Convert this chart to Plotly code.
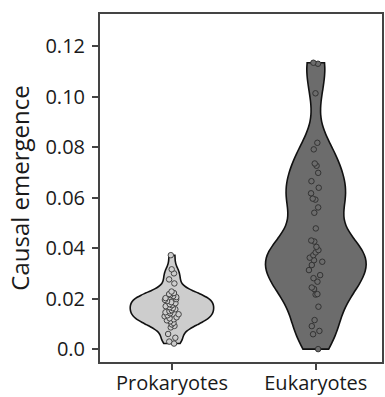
import plotly.graph_objects as go

categories = ["Prokaryotes", "Eukaryotes"]

prokaryotes = [0.0372, 0.0316, 0.0300, 0.0276, 0.0260, 0.0228, 0.0222, 0.0218, 0.0214,
               0.0210, 0.0206, 0.0202, 0.0198, 0.0195, 0.0190, 0.0186, 0.0182, 0.0178,
               0.0174, 0.0170, 0.0166, 0.0162, 0.0158, 0.0154, 0.0150, 0.0146, 0.0142,
               0.0138, 0.0134, 0.0130, 0.0126, 0.0122, 0.0118, 0.0114, 0.0110, 0.0104,
               0.0098, 0.0092, 0.0086, 0.0060, 0.0045, 0.0030, 0.0022]

eukaryotes = [0.1134, 0.1130, 0.1013, 0.0817, 0.0791, 0.0735, 0.0726, 0.0698, 0.0665,
              0.0639, 0.0617, 0.0596, 0.0592, 0.0561, 0.0540, 0.0478, 0.0430, 0.0426,
              0.0405, 0.0392, 0.0383, 0.0372, 0.0362, 0.0352, 0.0346, 0.0333, 0.0313,
              0.0293, 0.0281, 0.0267, 0.0244, 0.0238, 0.0218, 0.0216, 0.0168, 0.0115,
              0.0091, 0.0072, 0.0059, 0.0000]

ytick_vals = [0.0, 0.02, 0.04, 0.06, 0.08, 0.10, 0.12]
ytick_text = ["0.0", "0.02", "0.04", "0.06", "0.08", "0.10", "0.12"]

FONT = "Open Sans"

fig = go.Figure()
fig.add_trace(go.Violin(
    x=[categories[0]] * len(prokaryotes), y=prokaryotes,
    name=categories[0], spanmode="hard", width=0.58, bandwidth=0.0025,
    fillcolor="rgb(205,205,205)", line=dict(color="#111", width=1.6),
    points="all", jitter=0.18, pointpos=0,
    marker=dict(size=5.5, color="rgb(205,205,205)", line=dict(color="#444", width=1)),
    showlegend=False,
))
fig.add_trace(go.Violin(
    x=[categories[1]] * len(eukaryotes), y=eukaryotes,
    name=categories[1], spanmode="hard", width=0.70, bandwidth=0.0078,
    fillcolor="rgb(108,108,108)", line=dict(color="#111", width=1.6),
    points="all", jitter=0.15, pointpos=0,
    marker=dict(size=5.5, color="rgb(108,108,108)", line=dict(color="#333", width=1)),
    showlegend=False,
))

fig.update_layout(
    width=385, height=397,
    margin=dict(l=100, r=3, t=14, b=35, autoexpand=False),
    plot_bgcolor="white", paper_bgcolor="white",
    font=dict(family=FONT, size=20, color="#1a1a1a"),
    violinmode="overlay",
)
fig.update_xaxes(
    type="category", categoryorder="array", categoryarray=categories,
    range=[-0.5, 1.46], automargin=False,
    showline=True, linecolor="#444", linewidth=2, mirror=True,
    ticks="outside", ticklen=6, tickcolor="#444", tickwidth=1.5,
    showgrid=False, zeroline=False,
    tickfont=dict(family=FONT, size=20),
    ticklabelstandoff=-4,
)
fig.update_yaxes(
    range=[-0.0051, 0.1327], automargin=False,
    tickvals=ytick_vals, ticktext=ytick_text,
    showline=True, linecolor="#444", linewidth=2, mirror=True,
    ticks="outside", ticklen=6, tickcolor="#444", tickwidth=1.5,
    showgrid=False, zeroline=False,
    tickfont=dict(family=FONT, size=20),
    ticklabelstandoff=3,
    title=dict(text="Causal emergence", font=dict(family=FONT, size=24), standoff=9),
)

fig.write_html(
    "out.html",
    config={"displayModeBar": False},
    post_script="document.body.style.margin='0';document.body.style.padding='0';",
)
